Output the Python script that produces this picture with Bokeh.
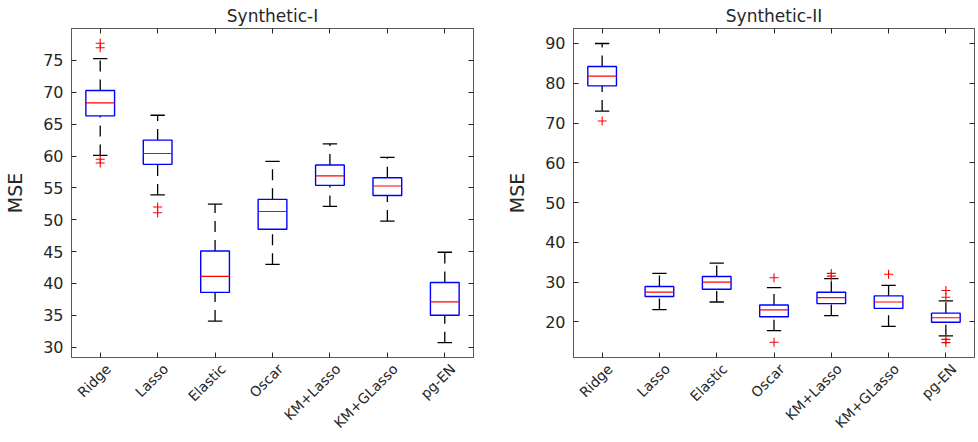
import numpy as np
from bokeh.plotting import figure
from bokeh.layouts import row
from bokeh.models import FixedTicker, LinearAxis, Range1d, CustomLabelingPolicy
from bokeh.embed import file_html
from bokeh.resources import INLINE

# Methods compared in both experiments
methods = ["Ridge", "Lasso", "Elastic", "Oscar", "KM+Lasso", "KM+GLasso", "pg-EN"]

# Synthetic-I: box-plot statistics of the MSE over repeated runs
s1_low = [60.1, 53.9, 34.1, 43.0, 52.1, 49.8, 30.7]
s1_q1 = [66.3, 58.7, 38.6, 48.5, 55.4, 53.8, 35.0]
s1_med = [68.35, 60.4, 41.1, 51.3, 56.9, 55.3, 37.1]
s1_q3 = [70.3, 62.5, 45.1, 53.2, 58.6, 56.6, 40.15]
s1_high = [75.3, 66.4, 52.45, 59.15, 61.9, 59.8, 44.9]
s1_out = [[77.7, 77.0, 59.5, 58.9], [52.0, 51.1], [], [], [], [], []]
s1_yticks = [30, 35, 40, 45, 50, 55, 60, 65, 70, 75]

# Synthetic-II
s2_low = [73.0, 23.1, 25.0, 17.8, 21.6, 18.9, 16.5]
s2_q1 = [79.35, 26.4, 28.2, 21.3, 24.6, 23.4, 19.9]
s2_med = [81.8, 27.5, 30.0, 23.0, 26.1, 25.0, 21.05]
s2_q3 = [84.2, 28.9, 31.4, 24.25, 27.45, 26.55, 22.2]
s2_high = [90.0, 32.2, 34.8, 28.6, 30.9, 29.2, 25.3]
s2_out = [[70.5], [], [], [31.1, 14.9], [32.2, 31.5], [32.0], [27.9, 26.2, 15.6, 14.8]]
s2_yticks = [20, 30, 40, 50, 60, 70, 80, 90]

FONT = "DejaVu Sans"
INK = "#262626"
FRAME = "#595959"

# tick marks only, no labels
NO_LABELS = CustomLabelingPolicy(code="""
    for (const i of Array.from(indices))
        indices.unset(i)
    return indices
""")


def tick_only_axis(axis, ticks):
    axis.ticker = FixedTicker(ticks=ticks)
    axis.major_label_policy = NO_LABELS
    axis.major_label_text_font_size = "0px"
    axis.major_label_standoff = 0
    axis.major_tick_in = 5
    axis.major_tick_out = 0
    axis.minor_tick_in = 0
    axis.minor_tick_out = 0
    axis.axis_line_color = FRAME
    axis.major_tick_line_color = INK
    return axis


def box_panel(title, low, q1, med, q3, high, outliers, yrange, yticks,
              width, border_left, border_right):
    n = len(methods)
    pos = np.arange(1, n + 1)
    xticks = [int(v) for v in pos]
    p = figure(width=width, height=442,
               x_range=Range1d(0.5, n + 0.5), y_range=Range1d(*yrange),
               output_backend="svg", toolbar_location=None,
               min_border_left=border_left, min_border_right=border_right,
               min_border_top=28, min_border_bottom=85)
    p.title.text = title
    p.title.align = "center"
    p.title.offset = 10
    p.title.text_font = FONT
    p.title.text_font_size = "17px"
    p.title.text_font_style = "normal"
    p.title.text_color = INK
    p.title.standoff = 6

    p.xgrid.visible = False
    p.ygrid.visible = False
    p.outline_line_color = FRAME
    p.outline_line_width = 1
    p.background_fill_color = "white"
    p.border_fill_color = "white"

    # bottom edge: tick marks on the main range
    tick_only_axis(p.xaxis[0], xticks)

    # method names: a label-only axis on a range shifted a few pixels
    # so that each rotated name ends just right of its tick
    shift = 0.14
    p.extra_x_ranges = {"names": Range1d(0.5 - shift, n + 0.5 - shift)}
    names_axis = LinearAxis(x_range_name="names",
                            ticker=FixedTicker(ticks=xticks),
                            major_label_overrides={t: m for t, m in zip(xticks, methods)},
                            major_label_orientation=np.pi / 4,
                            major_label_text_font=FONT,
                            major_label_text_font_size="14px",
                            major_label_text_color=INK,
                            major_label_standoff=9,
                            major_tick_in=0, major_tick_out=0,
                            minor_tick_in=0, minor_tick_out=0,
                            axis_line_color=None)
    p.add_layout(names_axis, "below")

    ya = p.yaxis[0]
    ya.ticker = FixedTicker(ticks=yticks)
    ya.axis_label = "MSE"
    ya.axis_label_text_font = FONT
    ya.axis_label_text_font_size = "19px"
    ya.axis_label_text_font_style = "normal"
    ya.axis_label_text_color = INK
    ya.axis_label_standoff = 14
    ya.major_label_text_font = FONT
    ya.major_label_text_font_size = "16px"
    ya.major_label_text_color = INK
    ya.major_label_standoff = 8
    ya.major_tick_in = 5
    ya.major_tick_out = 0
    ya.minor_tick_in = 0
    ya.minor_tick_out = 0
    ya.axis_line_color = FRAME
    ya.major_tick_line_color = INK

    p.add_layout(tick_only_axis(LinearAxis(), xticks), "above")
    p.add_layout(tick_only_axis(LinearAxis(), yticks), "right")

    # whiskers, drawn from the lower to the higher value
    p.segment(x0=pos, y0=q3, x1=pos, y1=high, line_color="black",
              line_width=1.3, line_dash="11 8")
    p.segment(x0=pos, y0=low, x1=pos, y1=q1, line_color="black",
              line_width=1.3, line_dash="11 8")
    # whisker caps
    cap = 0.125
    p.segment(x0=pos - cap, y0=high, x1=pos + cap, y1=high,
              line_color="black", line_width=1.3)
    p.segment(x0=pos - cap, y0=low, x1=pos + cap, y1=low,
              line_color="black", line_width=1.3)
    # interquartile boxes
    half = 0.25
    p.quad(left=pos - half, right=pos + half, bottom=q1, top=q3,
           fill_color=None, line_color="#0000ff", line_width=1.4)
    # medians
    p.segment(x0=pos - half, y0=med, x1=pos + half, y1=med,
              line_color="#ff0000", line_width=1.2)
    # outliers
    ox = [pos[i] for i, vals in enumerate(outliers) for _ in vals]
    oy = [v for vals in outliers for v in vals]
    p.scatter(x=ox, y=oy, marker="cross", size=9, line_color="#ff0000",
              line_width=1.1)
    return p


p1 = box_panel("Synthetic-I", s1_low, s1_q1, s1_med, s1_q3, s1_high, s1_out,
               (28.38, 80.02), s1_yticks, 490, 71, 17)
p2 = box_panel("Synthetic-II", s2_low, s2_q1, s2_med, s2_q3, s2_high, s2_out,
               (11.05, 93.77), s2_yticks, 488, 83, 4)

layout = row(p1, p2, spacing=0)
open("out.html", "w").write(file_html(layout, INLINE))
